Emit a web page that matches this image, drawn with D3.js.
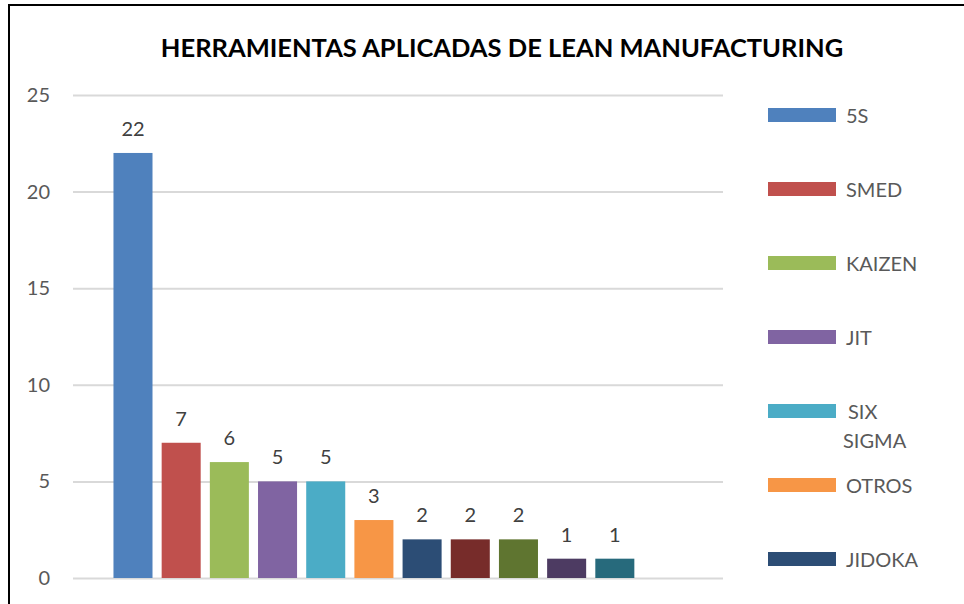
<!DOCTYPE html>
<html>
<head>
<meta charset="utf-8">
<script src="https://cdn.jsdelivr.net/npm/d3@7"></script>
<style>
  body { margin: 0; background: #fff; }
  text { font-family: Lato, "Open Sans", sans-serif; }
</style>
</head>
<body>
<div id="chart"></div>
<script>
const width = 964;
const height = 604;

// Data (one series per tool, Excel-style)
const tools = ["5S", "SMED", "KAIZEN", "JIT", "SIX SIGMA", "OTROS", "JIDOKA",
               "TPM", "KANBAN", "POKA YOKE", "VSM", "HEIJUNKA"];
const counts = [22, 7, 6, 5, 5, 3, 2, 2, 2, 1, 1, null];
const colors = ["#4f81bd", "#c0504d", "#9bbb59", "#8064a2", "#4bacc6", "#f79646",
                "#2c4d75", "#772c2a", "#5f7530", "#4d3b62", "#276a7c", "#b65708"];
const yTicks = [0, 5, 10, 15, 20, 25];

const data = tools.map((t, i) => ({ name: t, value: counts[i], color: colors[i] }));

const svg = d3.select("#chart").append("svg")
  .attr("width", width)
  .attr("height", height);

// chart frame (right and bottom edges fall outside the picture)
svg.append("rect")
  .attr("x", 9).attr("y", 5)
  .attr("width", 1000).attr("height", 700)
  .attr("fill", "none")
  .attr("stroke", "#000")
  .attr("stroke-width", 2);

svg.append("text")
  .attr("x", 502).attr("y", 57)
  .attr("text-anchor", "middle")
  .attr("font-size", 25.5)
  .attr("font-weight", "bold")
  .attr("fill", "#000")
  .text("HERRAMIENTAS APLICADAS DE LEAN MANUFACTURING");

const y = d3.scaleLinear().domain([0, 25]).range([578, 95]);
const x = d3.scaleBand()
  .domain(tools)
  .range([73, 723])
  .paddingInner(0.19)
  .paddingOuter(0.84);

// gridlines
const gy = svg.append("g")
  .attr("transform", "translate(723,0)")
  .call(d3.axisLeft(y).tickValues(yTicks).tickSize(650).tickFormat(""));
gy.select(".domain").remove();
gy.selectAll(".tick line").attr("stroke", "#d9d9d9").attr("stroke-width", 2);

// y labels
const gl = svg.append("g")
  .attr("transform", "translate(73,0)")
  .call(d3.axisLeft(y).tickValues(yTicks).tickSize(0).tickPadding(23));
gl.select(".domain").remove();
gl.selectAll(".tick text")
  .attr("fill", "#595959")
  .attr("font-size", 20)
  .attr("font-family", "Lato, sans-serif");

// bars
svg.selectAll("rect.bar")
  .data(data.filter(d => d.value != null))
  .enter().append("rect")
  .attr("class", "bar")
  .attr("x", d => x(d.name))
  .attr("width", x.bandwidth())
  .attr("y", d => y(d.value))
  .attr("height", d => y(0) - y(d.value))
  .attr("fill", d => d.color);

// value labels
svg.selectAll("text.lbl")
  .data(data.filter(d => d.value != null))
  .enter().append("text")
  .attr("class", "lbl")
  .attr("x", d => x(d.name) + x.bandwidth() / 2)
  .attr("y", d => y(d.value) - 17)
  .attr("text-anchor", "middle")
  .attr("font-size", 20)
  .attr("fill", "#404040")
  .text(d => d.value);

// legend: Excel runs it past the bottom edge, only the visible entries are drawn
const legendStep = 74;
const legendData = data.filter((d, i) => 115 + i * legendStep < height - 20);
const item = svg.append("g").selectAll("g")
  .data(legendData)
  .enter().append("g")
  .attr("transform", (d, i) => `translate(768,${115 + i * legendStep})`);

item.append("rect")
  .attr("x", 0).attr("y", -7)
  .attr("width", 68).attr("height", 14)
  .attr("fill", d => d.color);

item.append("text")
  .attr("x", 78).attr("y", 8)
  .attr("font-size", 20)
  .attr("fill", "#595959")
  .each(function(d) {
    const t = d3.select(this);
    const words = d.name.split(" ");
    if (words.length > 1) {
      words.forEach((w, k) => {
        t.append("tspan")
          .attr("x", k === 0 ? 80 : 75)
          .attr("dy", k === 0 ? 0 : 29)
          .text(w);
      });
    } else {
      t.text(d.name);
    }
  });
</script>
</body>
</html>
